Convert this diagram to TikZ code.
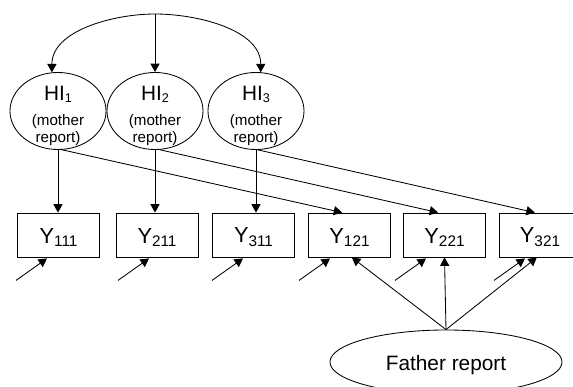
\documentclass[tikz,border=0pt]{standalone}
\usepackage{fontspec}
\setmainfont{Liberation Sans}
\usetikzlibrary{arrows.meta,calc,shapes.geometric}
\newcommand{\hisub}[1]{\raisebox{-1.5pt}{\fontsize{9}{9}\selectfont #1}}
\newcommand{\ysub}[1]{\raisebox{-2.8pt}{\fontsize{10.9}{11}\selectfont #1}}
\newcommand{\hitext}[1]{\begin{minipage}{1.8cm}\centering
  \fontsize{14.8}{16}\selectfont\rule{0pt}{17pt}HI\hisub{#1}\par
  \vspace{6.5pt}
  \fontsize{10.8}{11.5}\selectfont (mother\\report)\end{minipage}}

\begin{document}
\begin{tikzpicture}[x=0.025cm,y=-0.025cm,line width=0.6pt,>={Triangle[length=6pt,width=6.5pt]},
  latent/.style={draw,ellipse,inner sep=-14pt,minimum width=2.4cm,minimum height=1.925cm},
  obs/.style={draw,rectangle,inner sep=0pt,minimum width=2.05cm,minimum height=1.1cm,
    font=\fontsize{15.5}{16}\selectfont},
  father/.style={draw,ellipse,inner sep=0pt,minimum width=5.8cm,minimum height=1.6cm,
    font=\fontsize{14.8}{16}\selectfont}]
  \useasboundingbox (0,0) rectangle (573,387);
  \foreach \k/\cx in {1/58,2/155,3/256}{
    \node[latent] (hi\k) at (\cx,111) {\hitext{\k}};
  }
  \foreach \n/\cx in {111/58.5,211/157,311/253.5,121/349.5,221/444.5,321/540}{
    \node[obs] (y\n) at (\cx,235) {\rule{0pt}{14.2pt}Y\ysub{\n}};
  }
  \node[father] (fr) at (446,362) {\rule{0pt}{14.8pt}Father report};
  % correlations among the mother reports
  \coordinate (top) at (155,14);
  \draw[->] (top) to[out=180,in=90,looseness=0.9] (hi1.99);
  \draw[->] (top) -- (hi2.north);
  \draw[->] (top) to[out=0,in=90,looseness=0.9] (hi3.83);
  % loadings
  \foreach \k/\n in {1/111,2/211,3/311}{
    \draw[->] (hi\k.south) -- (hi\k.south |- y\n.north);
  }
  \draw[->] (hi1.-84) -- (y121.108);
  \draw[->] (hi2.-83) -- (y221.106);
  \draw[->] (hi3.-87) -- (y321.103);
  \foreach \n/\a in {121/-84,221/-90,321/-98}{
    \draw[->] (fr.north) -- (y\n.\a);
  }
  % residuals
  \foreach \n/\d in {111/-11.5,211/-8,311/-10.5,121/-19.5,221/-18.5,321/-15}{
    \coordinate (e\n) at ($(y\n.south)+({\d-31},23)$);
    \draw[->] (e\n) -- ($(y\n.south)+(\d,1)$);
  }
\end{tikzpicture}
\end{document}
